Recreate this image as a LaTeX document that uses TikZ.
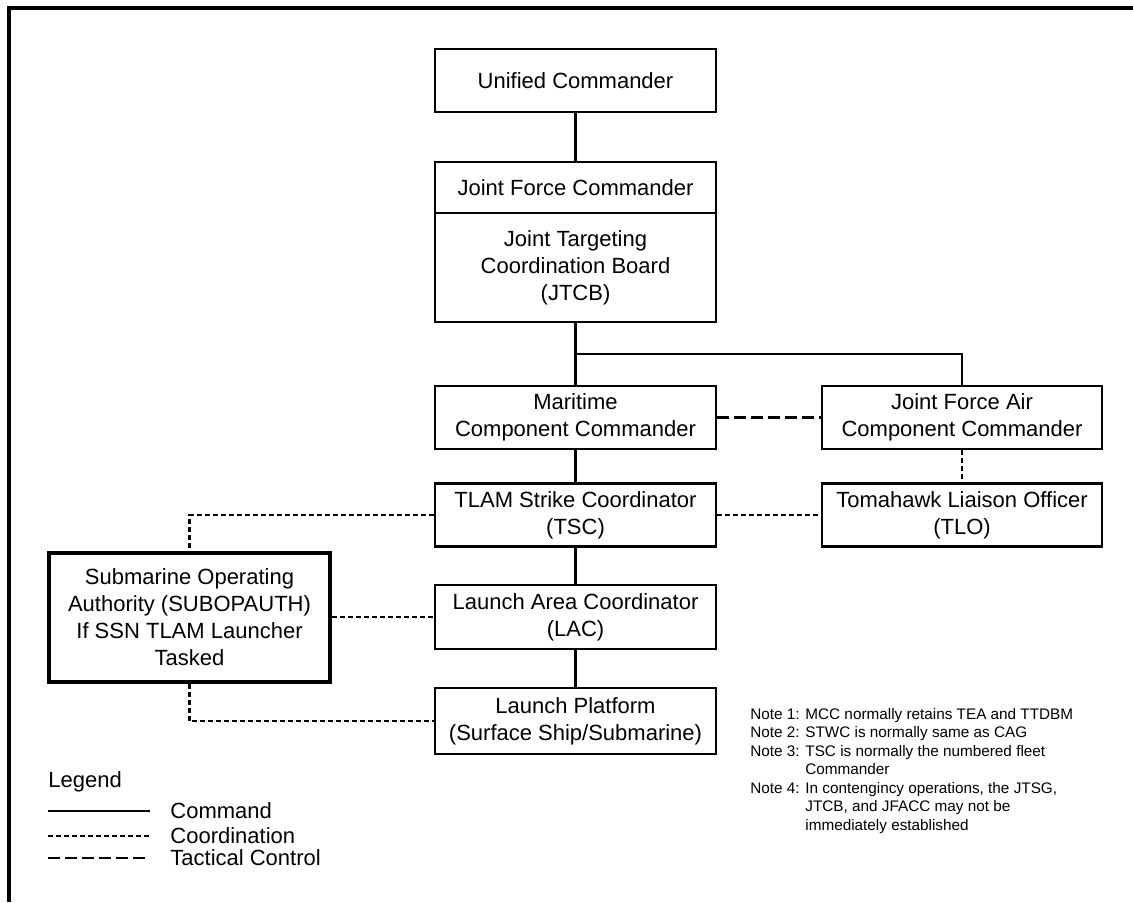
\documentclass[tikz,border=0pt]{standalone}
\usepackage{fontspec}
\setmainfont{Liberation Sans}
\newcommand{\notefont}{\fontsize{7.65}{9.25}\selectfont}
\tikzset{
  cajabox/.style={draw, line width=1.2pt, align=center, inner sep=0pt,
    font=\fontsize{11}{13.6}\selectfont, minimum width=140.5pt, minimum height=31.5pt},
  mando/.style={line width=1.35pt},
  coord/.style={line width=1.3pt, dash pattern=on 2.5pt off 1.5pt},
  tactico/.style={line width=1.3pt, dash pattern=on 6pt off 2.5pt},
}
\begin{document}
\begin{tikzpicture}[x=0.5pt, y=-0.5pt]
    \useasboundingbox (0,0) rectangle (1133,902);
    % Marco
    \draw[line width=2pt] (9,902) -- (9,8) -- (1133,8);

    % Cajas
    \node[cajabox] (uc) at (575.5,80.5) {Unified Commander};
    \node[cajabox, minimum height=25.5pt] (jfc) at (575.5,187.5) {Joint Force Commander};
    \node[cajabox, minimum height=54.5pt] (jtcb) at (575.5,267.5) {Joint Targeting\\Coordination Board\\(JTCB)};
    \node[cajabox] (mcc) at (575.5,417.5) {Maritime\\Component Commander};
    \node[cajabox, minimum width=140pt] (jfacc) at (962,417.5) {Joint Force Air\\Component Commander};
    \node[cajabox] (tsc) at (575.5,515) {TLAM Strike Coordinator\\(TSC)};
    \node[cajabox, minimum width=140pt] (tlo) at (962,515) {Tomahawk Liaison Officer\\(TLO)};
    \node[cajabox, line width=2pt, minimum height=64.5pt] (sub) at (189.5,617) {Submarine Operating\\Authority (SUBOPAUTH)\\If SSN TLAM Launcher\\Tasked};
    \node[cajabox, minimum height=32pt] (lac) at (575.5,617) {Launch Area Coordinator\\(LAC)};
    \node[cajabox, minimum height=33pt] (lp) at (575.5,721) {Launch Platform\\(Surface Ship/Submarine)};

    % Mando
    \coordinate (junc) at (575.5,354);
    \draw[mando] (uc) -- (jfc);
    \draw[mando] (jtcb) -- (mcc);
    \draw[mando] (junc) -| (jfacc.north);
    \draw[mando] (mcc) -- (tsc);
    \draw[mando] (tsc) -- (lac);
    \draw[mando] (lac) -- (lp);

    % Coordinacion y control tactico
    \draw[tactico] (mcc) -- (jfacc);
    \draw[coord] (jfacc) -- (tlo);
    \draw[coord] (tsc) -- (tlo);
    \draw[coord] (tsc.west) -| (sub.north);
    \draw[coord] (sub) -- (lac);
    \draw[coord] (sub.south) |- (lp.west);

    % Leyenda
    \node[anchor=west, inner sep=0pt, font=\fontsize{11}{13}\selectfont] (leg) at (48,782) {Legend};
    \coordinate (l1a) at (48,811); \coordinate (l1b) at (150,811);
    \coordinate (l2a) at (48,836); \coordinate (l2b) at (150,836);
    \coordinate (l3a) at (48,858); \coordinate (l3b) at (150,858);
    \draw[mando] (l1a) -- (l1b);
    \draw[coord] (l2a) -- (l2b);
    \draw[tactico] (l3a) -- (l3b);
    \node[anchor=west, inner sep=0pt, font=\fontsize{11}{13}\selectfont] (lcmd) at (170,811) {Command};
    \node[anchor=west, inner sep=0pt, font=\fontsize{11}{13}\selectfont] (lcoo) at (170,836) {Coordination};
    \node[anchor=west, inner sep=0pt, font=\fontsize{11}{13}\selectfont] (ltac) at (170,858) {Tactical Control};

    % Notas
    \node[anchor=north west, inner sep=0pt, font=\notefont] (notas) at (750,706) {%
      \begin{tabular}{@{}l@{ }l@{}}
        Note 1: & MCC normally retains TEA and TTDBM\\
        Note 2: & STWC is normally same as CAG\\
        Note 3: & TSC is normally the numbered fleet\\
                & Commander\\
        Note 4: & In contengincy operations, the JTSG,\\
                & JTCB, and JFACC may not be\\
                & immediately established
      \end{tabular}};
\end{tikzpicture}
\end{document}
